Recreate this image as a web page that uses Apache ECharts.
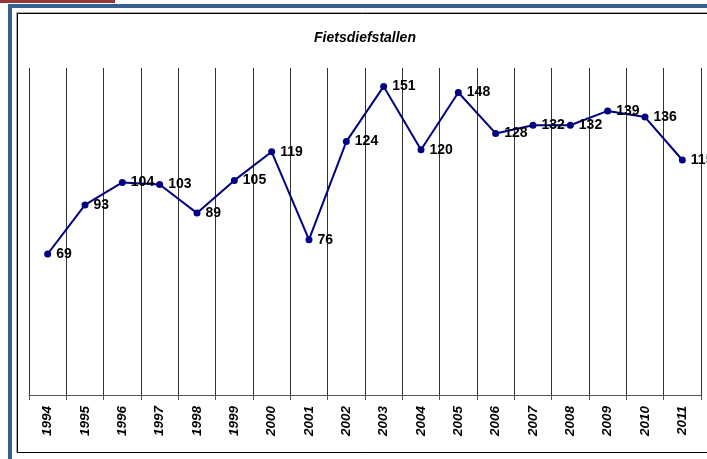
<!DOCTYPE html>
<html><head><meta charset="utf-8">
<script src="https://cdn.jsdelivr.net/npm/echarts@6/dist/echarts.min.js"></script>
<style>html,body{margin:0;padding:0;background:#fff}#c{width:707px;height:459px}</style>
</head><body><div id="c"></div>
<script>
const years = ['1994','1995','1996','1997','1998','1999','2000','2001','2002','2003','2004','2005','2006','2007','2008','2009','2010','2011'];
const thefts = [69, 93, 104, 103, 89, 105, 119, 76, 124, 151, 120, 148, 128, 132, 132, 139, 136, 115];
const titleText = 'Fietsdiefstallen';

const chart = echarts.init(document.getElementById('c'), null, {renderer: 'canvas'});
chart.setOption({
  animation: false,
  backgroundColor: '#fff',
  title: {
    text: titleText, left: 360, top: 26, textAlign: 'center',
    textStyle: {fontFamily: 'Liberation Sans, Arial', fontSize: 14, fontWeight: 'bold', fontStyle: 'italic', color: '#000'}
  },
  graphic: [
    {type: 'rect', shape: {x: 0, y: 0, width: 115, height: 3}, style: {fill: '#953735'}, silent: true},
    {type: 'rect', shape: {x: 8, y: 4, width: 720, height: 4}, style: {fill: '#366092'}, silent: true},
    {type: 'rect', shape: {x: 8, y: 4, width: 4, height: 460}, style: {fill: '#366092'}, silent: true},
    {type: 'rect', shape: {x: 16.5, y: 12.5, width: 720, height: 440}, style: {fill: 'none', stroke: '#aaa', lineWidth: 1}, silent: true},
    {type: 'rect', shape: {x: 17.5, y: 13.5, width: 720, height: 439}, style: {fill: 'none', stroke: '#000', lineWidth: 1}, silent: true}
  ],
  grid: {left: 29, right: 6, top: 68, bottom: 64, containLabel: false},
  xAxis: {
    type: 'category', data: years, boundaryGap: true,
    axisLine: {show: true, lineStyle: {color: '#555', width: 1}},
    axisTick: {show: true, length: 5, alignWithLabel: false, lineStyle: {color: '#555'}},
    splitLine: {show: true, interval: 0, lineStyle: {color: '#333', width: 1}},
    axisLabel: {rotate: 90, interval: 0, margin: 11, fontFamily: 'Liberation Sans, Arial', fontSize: 13.5, fontWeight: 'bold', fontStyle: 'italic', color: '#000'}
  },
  yAxis: {
    type: 'value', min: 0, max: 160, interval: 20,
    show: false, splitLine: {show: false}
  },
  series: [{
    type: 'line', data: thefts,
    symbol: 'circle', symbolSize: 7,
    lineStyle: {color: '#000080', width: 2},
    itemStyle: {color: '#000080'},
    label: {show: true, position: 'right', distance: 5, fontFamily: 'Liberation Sans, Arial', fontSize: 14, fontWeight: 'bold', color: '#000'}
  }]
});
</script></body></html>
